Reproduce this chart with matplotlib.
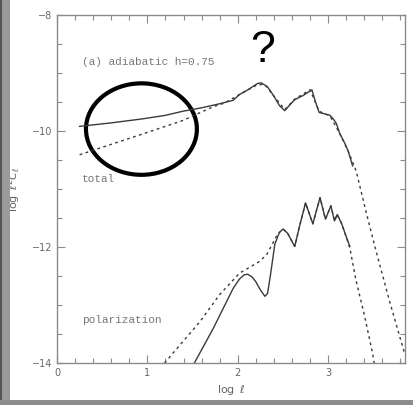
import matplotlib.pyplot as plt
from matplotlib.patches import Ellipse, Rectangle
from matplotlib.ticker import MultipleLocator

# total: solid model
tot_solid_x = [0.25, 0.6, 0.95, 1.20, 1.39, 1.60, 1.80, 1.95, 2.02, 2.10, 2.22, 2.26, 2.33, 2.40, 2.46, 2.52,
               2.57, 2.63, 2.72, 2.80, 2.82, 2.86, 2.90, 2.95, 3.02, 3.06, 3.09, 3.13, 3.18, 3.22, 3.27]
tot_solid_y = [-9.92, -9.86, -9.79, -9.73, -9.66, -9.60, -9.53, -9.47, -9.37, -9.30, -9.18, -9.17, -9.24, -9.40, -9.56, -9.65,
               -9.56, -9.46, -9.39, -9.31, -9.29, -9.50, -9.68, -9.70, -9.73, -9.80, -9.87, -10.05, -10.20, -10.34, -10.60]
# total: dashed model
tot_dash_x = [0.25, 0.6, 0.95, 1.39, 1.73, 1.85, 2.02, 2.22, 2.30, 2.40, 2.52, 2.63, 2.80, 2.90,
              3.02, 3.13, 3.22, 3.31, 3.42, 3.53, 3.68, 3.85]
tot_dash_y = [-10.41, -10.23, -10.05, -9.82, -9.58, -9.52, -9.37, -9.20, -9.20, -9.40, -9.63, -9.45, -9.29, -9.66,
              -9.74, -10.05, -10.34, -10.69, -11.40, -12.07, -12.94, -13.86]
# polarization: solid model
pol_solid_x = [1.52, 1.73, 1.95, 2.02, 2.07, 2.11, 2.16, 2.20, 2.25, 2.30, 2.33, 2.36, 2.41, 2.46, 2.50, 2.55, 2.63, 2.69, 2.75,
               2.83, 2.91, 2.97, 3.03, 3.07, 3.10, 3.15, 3.19, 3.24]
pol_solid_y = [-14.0, -13.4, -12.71, -12.55, -12.48, -12.47, -12.52, -12.60, -12.74, -12.85, -12.80, -12.50, -11.95, -11.75, -11.69, -11.76, -11.99, -11.60, -11.24,
               -11.60, -11.15, -11.52, -11.29, -11.55, -11.44, -11.60, -11.78, -11.99]
# polarization: dashed model
pol_dash_x = [1.19, 1.58, 1.80, 2.02, 2.24, 2.32, 2.44, 2.50, 2.55, 2.63, 2.69, 2.75, 2.83, 2.91,
              2.97, 3.03, 3.07, 3.10, 3.15, 3.19, 3.24, 3.31, 3.40, 3.48, 3.51]
pol_dash_y = [-14.0, -13.29, -12.82, -12.45, -12.25, -12.13, -11.78, -11.69, -11.76, -11.99, -11.60, -11.24, -11.60, -11.15,
              -11.52, -11.29, -11.55, -11.44, -11.60, -11.78, -12.02, -12.59, -13.17, -13.75, -14.0]

ink = '#3a3a3a'
frame = '#8a8a8a'

fig = plt.figure(figsize=(4.13, 4.05), dpi=100)
fig.patch.set_facecolor('white')

# screenshot border (gray strip left, shadow at bottom)
fig.add_artist(Rectangle((0, 0), 10 / 413, 1, transform=fig.transFigure, color='#9a9a9a', lw=0))
fig.add_artist(Rectangle((0, 0), 2 / 413, 1, transform=fig.transFigure, color='#555555', lw=0))
fig.add_artist(Rectangle((0, 0), 1, 5 / 405, transform=fig.transFigure, color='#8c8c8c', lw=0))

ax = fig.add_axes([57 / 413, 1 - 363 / 405, 348 / 413, 348 / 405])
ax.plot(tot_solid_x, tot_solid_y, color=ink, lw=1.0)
ax.plot(tot_dash_x, tot_dash_y, color=ink, lw=1.0, ls=(0, (2, 2.5)))
ax.plot(pol_solid_x, pol_solid_y, color=ink, lw=1.0)
ax.plot(pol_dash_x, pol_dash_y, color=ink, lw=1.0, ls=(0, (2, 2.5)))

ax.set_xlim(0, 3.85)
ax.set_ylim(-14, -8)
ax.xaxis.set_major_locator(MultipleLocator(1))
ax.xaxis.set_minor_locator(MultipleLocator(0.2))
ax.yaxis.set_major_locator(MultipleLocator(2))
ax.yaxis.set_minor_locator(MultipleLocator(0.5))
ax.tick_params(which='both', direction='in', top=True, right=True, colors=frame, labelcolor='#666666',
               labelsize=7)
ax.tick_params(which='major', length=6, width=0.8)
ax.tick_params(which='minor', length=3.5, width=0.8)
for s in ax.spines.values():
    s.set_color(frame)
    s.set_linewidth(1.0)

ax.set_xlabel(r'$\log\ \ell$', fontsize=8, color='#666666', labelpad=4)
ax.set_ylabel(r'$\log\ \ell^2 C_\ell$', fontsize=8, color='#666666', labelpad=6)

mono = 'Liberation Mono'
ax.text(0.28, -8.81, '(a) adiabatic h=0.75', family=mono, fontsize=8, color='#777777', va='center')
ax.text(0.28, -10.83, 'total', family=mono, fontsize=8, color='#777777', va='center')
ax.text(0.28, -13.25, 'polarization', family=mono, fontsize=8, color='#777777', va='center')

# annotations drawn over the scan
ax.add_patch(Ellipse((0.934, -9.967), 1.227, 1.577, fill=False, ec='black', lw=3, clip_on=False))
ax.text(2.276, -8.61, '?', family='Liberation Sans', fontsize=32, color='black',
        ha='center', va='center', clip_on=False)

fig.savefig('out.png', dpi=100)
